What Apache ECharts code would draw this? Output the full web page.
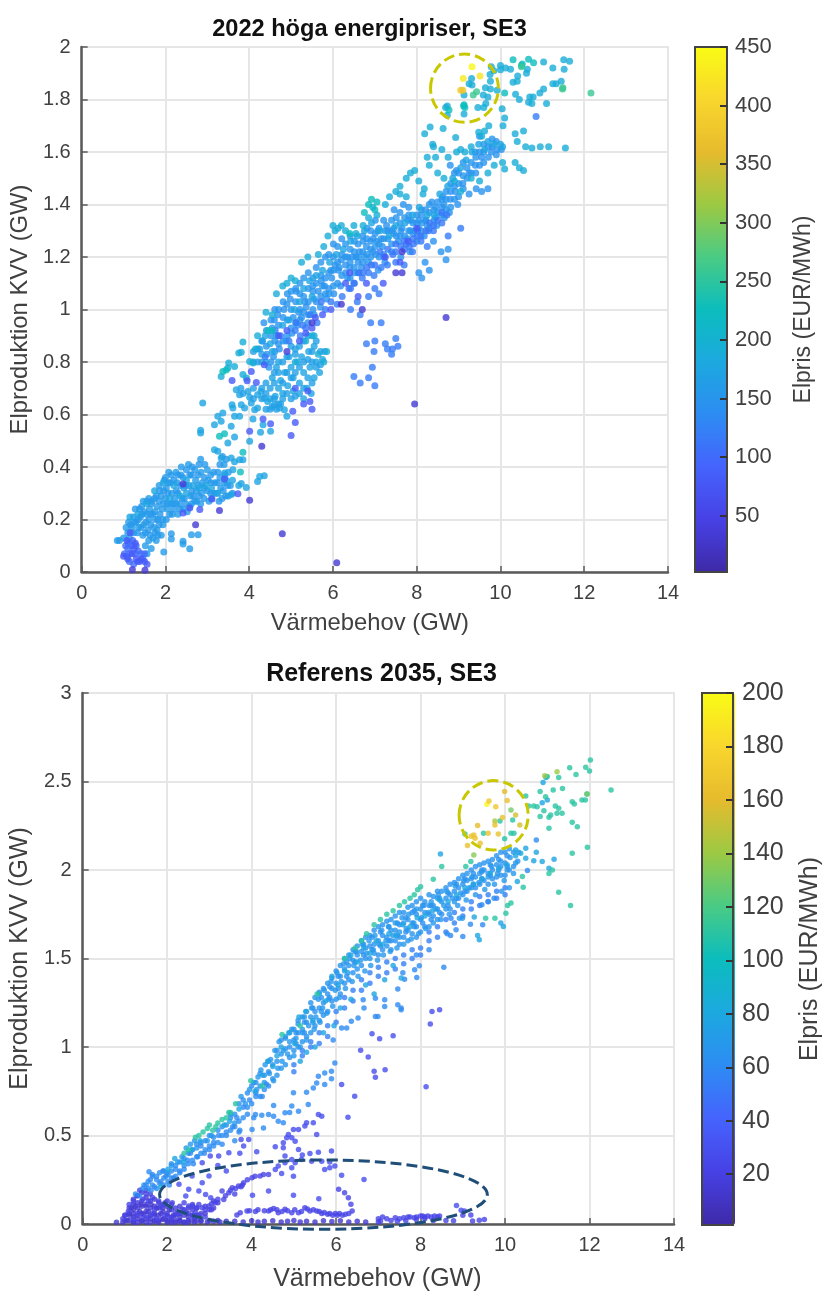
<!DOCTYPE html>
<html><head><meta charset="utf-8">
<style>html,body{margin:0;padding:0;background:#fff}#c{width:824px;height:1293px}</style>
<script src="https://cdn.jsdelivr.net/npm/echarts@6/dist/echarts.min.js"></script>
</head><body><div id="c"></div>
<script>
const titles=['2022 höga energipriser, SE3','Referens 2035, SE3'];
const xName='Värmebehov (GW)', yName='Elproduktion KVV (GW)', cName='Elpris (EUR/MWh)';
const cTicksA=[50,100,150,200,250,300,350,400,450];
const cTicksB=[20,40,60,80,100,120,140,160,180,200];
const parula=['#3E2AA8','#4741E5','#4563FD','#2D8CF3','#1CA9DF','#0BBDBD','#4ACB84','#9DC943','#E6BB2D','#F9D62D','#F9FB15'];

// ---------- 2022 : [x GW, y GW] grouped by price (EUR/MWh)
const a160=[[.85,.12],[.9,.12],[1.0,.13],[1.06,.17],[1.12,.19],[1.1,.15],[1.2,.17],[1.23,.21],[1.28,.24],[1.3,.19],[1.36,.17],[1.4,.21],[1.43,.25],[1.47,.27],[1.5,.23],[1.48,.18],[1.46,.14],[1.52,.1],[1.56,.07],[1.6,.12],[1.58,.16],[1.6,.2],[1.62,.24],[1.6,.28],[1.68,.27],[1.7,.22],[1.72,.17],[1.7,.13],[1.66,.09],[1.78,.12],[1.8,.16],[1.82,.2],[1.8,.25],[1.78,.29],[1.85,.33],[1.9,.29],[1.92,.24],[1.94,.18],[1.9,.14],[2.0,.36],[2.02,.32],[2.0,.28],[2.05,.24],[2.08,.38],[2.12,.34],[2.15,.3],[2.18,.26],[2.16,.22],[2.25,.38],[2.28,.34],[2.3,.3],[2.33,.26],[2.3,.22],[2.38,.4],[2.42,.36],[2.44,.32],[2.45,.28],[2.42,.24],[2.55,.41],[2.58,.37],[2.56,.33],[2.6,.29],[2.58,.25],[2.7,.39],[2.72,.35],[2.74,.31],[2.7,.27],[2.84,.43],[2.85,.38],[2.88,.34],[2.86,.3],[2.84,.26],[3.0,.39],[3.02,.35],[3.0,.31],[3.04,.27],[3.15,.38],[3.18,.34],[3.16,.3],[3.3,.36],[3.32,.32],[3.35,.28],[3.4,.41],[3.5,.38],[3.55,.33],[3.6,.3],[3.5,.29],[2.14,.146],[2.14,.126],[2.42,.117],[2.42,.107],[2.62,.142],[2.78,.142],[2.58,.089],[1.96,.076]];
const a155=[[1.14,.13],[1.17,.18],[1.24,.15],[1.26,.19],[1.33,.15],[1.35,.2],[1.38,.24],[1.42,.17],[1.44,.22],[1.52,.15],[1.53,.19],[1.55,.22],[1.56,.27],[1.63,.14],[1.65,.18],[1.65,.22],[1.66,.26],[1.75,.15],[1.76,.2],[1.75,.23],[1.74,.28],[1.82,.14],[1.85,.18],[1.87,.22],[1.85,.27],[1.86,.31],[1.93,.2],[1.95,.26],[1.96,.31],[1.97,.35],[2.02,.2],[2.04,.26],[2.06,.3],[2.07,.34],[2.1,.22],[2.12,.26],[2.14,.37],[2.2,.24],[2.22,.28],[2.2,.35],[2.26,.26],[2.26,.31],[2.3,.37],[2.35,.24],[2.36,.33],[2.37,.37],[2.4,.28],[2.48,.26],[2.48,.33],[2.5,.39],[2.52,.23],[2.62,.26],[2.63,.31],[2.62,.37],[2.64,.4],[2.66,.29],[2.75,.27],[2.78,.33],[2.78,.37],[2.8,.41],[2.8,.29],[2.92,.28],[2.93,.32],[2.93,.36],[2.94,.41],[3.08,.3],[3.08,.34],[3.08,.37],[3.1,.28],[3.22,.3],[3.24,.34],[3.25,.38],[3.28,.27],[3.38,.31],[3.4,.34],[3.42,.37],[3.44,.29],[3.48,.33],[3.3,.41],[3.36,.44],[3.45,.43],[7.05,1.26],[7.07,1.3],[7.25,1.3],[7.45,1.31],[7.65,1.31],[7.85,1.3],[7.87,1.34],[8.05,1.34],[8.25,1.32],[8.45,1.35],[8.65,1.4],[5.55,1.04],[5.75,1.09],[5.95,1.15],[6.15,1.16],[6.35,1.2],[6.55,1.2],[6.75,1.2],[6.95,1.22]];
const a100=[[1.05,.1],[1.02,.07],[1.1,.09],[1.08,.06],[1.15,.07],[1.2,.1],[1.28,.07],[1.35,.08],[1.42,.07],[1.5,.07],[1.14,.04],[1.24,.03],[1.38,.04],[1.46,.05],[1.12,.11],[1.22,.12],[1.3,.1]];
const a175=[[1.15,.21],[1.34,.22],[1.55,.26],[1.74,.31],[1.95,.34],[2.1,.28],[2.2,.33],[2.35,.29],[2.5,.35],[2.5,.3],[2.65,.33],[2.8,.32],[2.95,.33],[3.1,.32],[3.25,.3],[3.45,.35],[3.6,.35],[3.75,.33],[3.81,.337],[3.93,.322],[3.57,.295],[3.25,.46],[3.33,.434],[3.17,.466],[3.57,.434],[3.65,.42],[3.77,.428],[3.85,.428],[3.61,.39],[3.41,.377],[4.2,.345],[4.25,.364],[4.36,.367],[2.89,.644],[2.84,.54],[2.84,.53],[3.17,.561],[3.25,.593],[3.37,.606],[3.33,.574],[3.49,.491],[3.65,.514],[3.57,.555],[3.65,.593],[3.77,.593],[3.59,.637],[3.61,.625],[3.81,.637],[3.89,.625],[4.09,.583],[4.01,.498],[4.27,.532],[4.33,.561],[4.51,.536],[3.69,.694],[3.77,.675],[3.97,.688],[4.01,.666],[4.05,.644],[4.13,.618],[4.2,.625],[4.2,.675],[4.36,.663],[4.44,.65],[4.6,.637],[4.72,.625],[4.84,.618],[4.9,.593],[4.28,.688],[4.5,.66],[4.62,.67],[4.7,.7],[4.8,.68],[4.55,.74],[4.65,.78],[4.75,.73],[4.85,.76],[4.92,.71],[5.0,.78],[5.05,.74],[5.15,.8],[5.2,.72],[5.3,.76],[5.38,.7],[5.45,.78],[5.55,.74],[5.6,.8],[5.68,.76],[5.75,.81],[5.8,.84],[5.05,.69],[5.3,.66],[5.42,.84],[5.55,.86],[4.55,.84],[4.7,.8],[4.95,.82],[5.1,.85],[5.25,.82],[5.48,.68],[4.25,.85],[4.3,.8],[4.38,.9],[4.5,.87],[4.65,.9],[4.8,.94],[4.95,.96],[5.08,1.0],[5.2,1.03],[5.3,1.08],[5.44,1.11],[5.5,1.05],[5.6,1.13],[5.75,1.15],[5.92,1.18],[6.08,1.21],[6.25,1.23],[6.42,1.26],[6.58,1.28],[6.75,1.3],[6.92,1.33],[7.12,1.3],[7.34,1.28],[7.5,1.32],[7.72,1.33],[7.9,1.36],[8.06,1.39],[8.25,1.36],[8.42,1.36],[8.55,1.44],[8.74,1.47],[8.86,1.5],[9.05,1.54],[9.18,1.57],[9.32,1.6],[9.48,1.63],[9.62,1.61],[9.7,1.64],[9.85,1.63],[10.0,1.63],[10.05,1.62]];
const a145=[[4.42,.83],[4.55,.93],[4.58,.82],[4.68,.98],[4.72,.85],[4.83,1.0],[4.88,.88],[4.98,1.04],[5.02,.91],[5.12,1.07],[5.15,.94],[5.25,.97],[5.36,1.01],[5.4,.95],[5.55,.98],[5.65,1.07],[5.7,1.01],[5.8,1.09],[5.85,1.04],[5.97,1.12],[6.02,1.06],[6.13,1.15],[6.18,1.09],[6.3,1.17],[6.35,1.12],[6.46,1.2],[6.52,1.14],[6.63,1.22],[6.68,1.16],[6.8,1.24],[6.85,1.18],[6.96,1.27],[7.02,1.21],[7.08,1.15],[7.18,1.24],[7.24,1.18],[7.4,1.22],[7.46,1.38],[7.56,1.26],[7.62,1.2],[7.68,1.4],[7.78,1.27],[7.84,1.22],[7.95,1.3],[8.0,1.26],[8.12,1.33],[8.18,1.28],[8.3,1.31],[8.36,1.41],[8.48,1.32],[8.6,1.39],[8.66,1.35],[8.8,1.42],[8.92,1.45],[8.98,1.4],[9.1,1.48],[9.25,1.52],[9.4,1.55],[9.55,1.58],[9.78,1.6],[9.92,1.61],[4.35,.95],[4.47,.78],[4.6,.96],[4.9,1.02],[5.05,.97],[5.18,.99],[5.33,1.03],[5.52,1.09],[5.72,1.11],[5.9,1.08],[6.05,1.17],[6.2,1.19],[6.4,1.16],[6.6,1.18],[6.72,1.26],[6.9,1.23],[7.15,1.27],[7.28,1.32],[7.45,1.29],[7.62,1.3],[7.8,1.34],[8.04,1.31],[8.22,1.34],[8.45,1.39],[8.62,1.43],[8.78,1.37],[8.4,1.26],[8.58,1.22],[8.7,1.19],[8.75,1.23],[8.2,1.18],[8.05,1.14],[8.12,1.12],[8.3,1.15],[9.4,1.6],[9.5,1.66],[9.25,1.44],[9.42,1.46],[9.55,1.45],[9.7,1.46],[8.95,1.53],[8.8,1.55]];
// columns: x followed by the y values read at about that x
const aBand=[[4.32,.88],[4.41,.86,.92],[4.52,.8,.9,.96],[4.61,.84,.88,1.0],[4.7,.87,.94,1.0],[4.81,.88,.97,1.03],[4.91,.9,.96,1.06],[5.0,.93,1.0,1.07],[5.11,.95,1.03,1.08],[5.21,.96,1.0,1.06,1.1],[5.3,.99,1.05,1.12],[5.41,.98,1.03,1.08,1.14],[5.52,1.0,1.07,1.12],[5.6,1.03,1.1,1.16],[5.71,1.05,1.13,1.18],[5.82,1.06,1.12,1.2],[5.9,1.06,1.14,1.21],[6.01,1.09,1.15,1.2,1.25],[6.11,1.1,1.18,1.24],[6.21,1.13,1.21,1.27],[6.3,1.14,1.2,1.25],[6.41,1.12,1.18,1.23,1.28],[6.51,1.16,1.22,1.26],[6.6,1.14,1.2,1.25],[6.71,1.18,1.22,1.28],[6.81,1.21,1.27,1.31],[6.9,1.2,1.26,1.3],[7.01,1.24,1.29,1.34],[7.1,1.2,1.25,1.31],[7.21,1.21,1.27,1.34],[7.31,1.27,1.3],[7.4,1.25,1.3,1.34],[7.51,1.28,1.35],[7.6,1.28,1.33,1.37],[7.71,1.28,1.35],[7.81,1.3,1.36,1.39],[7.91,1.29,1.33],[8.0,1.33,1.36],[8.11,1.3,1.36,1.38],[8.21,1.34,1.38],[8.3,1.37,1.4],[8.41,1.34,1.38],[8.5,1.37,1.41],[8.6,1.36,1.42],[8.7,1.38,1.42,1.45],[8.81,1.39,1.45,1.48],[8.9,1.42,1.47,1.52],[9.0,1.43,1.48,1.52],[9.11,1.46,1.51,1.56],[9.2,1.5,1.54],[9.3,1.52,1.56],[9.41,1.52,1.58],[9.5,1.55,1.6],[9.6,1.56,1.6,1.63],[9.71,1.58,1.62],[9.8,1.62,1.65],[9.9,1.59,1.64],[10.02,1.61]];
const aBandLow=[[6.42,1.08],[6.51,1.1],[6.62,1.14],[6.72,1.14],[6.81,1.16],[6.92,1.17],[7.0,1.17],[7.12,1.22],[7.22,1.2],[7.31,1.23],[7.43,1.21],[7.5,1.22,1.25],[7.62,1.24],[7.7,1.23,1.26],[7.82,1.24],[7.92,1.25,1.27],[8.02,1.28,1.3],[8.1,1.26,1.28],[8.22,1.3],[8.31,1.33],[8.4,1.3,1.32],[8.5,1.34],[8.6,1.33,1.37],[8.72,1.36],[5.12,.95],[5.35,.93],[5.72,1.03]];
const aBlock=[[4.6,.66,.72,.76],[4.7,.64,.76],[4.8,.66,.72,.8],[4.9,.68,.76,.82],[5.0,.66,.74,.86],[5.1,.67,.76,.83],[5.2,.68,.78,.86],[5.3,.7,.8,.88],[5.4,.74,.81,.9],[5.5,.72,.8,.84],[5.6,.78,.88],[5.7,.79,.84],[4.3,.7,.66],[4.4,.68,.72,.62,.8],[4.5,.62,.7],[4.1,.66,.7,.8,.84],[3.85,.68],[4.55,.63],[4.65,.62],[4.75,.64],[4.2,.8,.85],[4.3,.83,.88],[3.8,.7]];
const a190=[[6.5,1.32],[6.3,1.3],[6.2,1.32],[5.88,1.28],[5.65,1.21],[5.78,1.24],[6.0,1.32],[6.05,1.3],[6.12,1.31],[6.55,1.29],[6.72,1.32],[6.85,1.35],[6.95,1.39],[7.05,1.36],[7.25,1.4],[7.35,1.43],[7.5,1.45],[7.6,1.47],[7.75,1.5],[7.85,1.52],[7.95,1.53],[8.05,1.49],[8.18,1.46],[8.3,1.55],[8.45,1.58],[8.25,1.58],[8.38,1.63],[8.32,1.695],[8.63,1.69],[8.19,1.67],[8.93,1.655],[8.4,1.62],[8.6,1.61],[8.75,1.58],[8.95,1.6],[9.15,1.6],[9.3,1.62],[9.05,1.61],[9.72,1.7],[10.06,1.7],[9.48,1.675],[9.55,1.66],[9.62,1.68],[10.35,1.67],[10.55,1.68],[10.4,1.64],[10.6,1.62],[10.75,1.615],[10.95,1.62],[11.15,1.62],[11.55,1.615],[10.05,1.56],[10.1,1.535],[10.35,1.56],[10.55,1.53],[9.85,1.55],[9.7,1.52],[10.45,1.54],[9.3,1.5],[9.5,1.49],[9.05,1.45],[8.5,1.52],[8.65,1.5],[8.9,1.49],[7.6,1.44],[7.75,1.43],[8.15,1.44],[9.78,1.925],[10.0,1.93],[9.84,1.91],[10.0,1.913],[10.12,1.92],[10.24,1.915],[10.64,1.915],[10.62,1.9],[10.41,1.89],[10.3,1.866],[10.4,1.87],[11.25,1.92],[11.52,1.915],[11.03,1.943],[11.51,1.951],[11.65,1.946],[9.31,1.88],[9.25,1.86],[9.32,1.855],[9.76,1.84],[9.64,1.845],[9.76,1.87],[9.75,1.895],[9.92,1.835],[9.59,1.817],[9.7,1.81],[9.13,1.817],[9.46,1.77],[9.6,1.77],[9.65,1.785],[10.04,1.765],[10.1,1.73],[10.45,1.8],[10.7,1.81],[10.78,1.81],[10.67,1.79],[10.75,1.785],[11.1,1.785],[10.94,1.825],[11.03,1.84],[11.25,1.86],[11.33,1.86],[11.45,1.87],[10.36,1.82],[8.73,1.775],[8.69,1.77],[8.73,1.74],[9.13,1.745],[5.4,1.2],[5.25,1.18],[5.1,1.11],[5.0,1.12],[4.9,1.1],[4.8,1.09],[4.65,1.06],[4.55,.98],[4.4,.99],[4.2,.9],[4.15,.85],[3.85,.876],[3.75,.834],[3.81,.837],[4.01,.802],[4.09,.796],[3.51,.796],[3.49,.777],[3.65,.783],[3.33,.745],[3.93,.739],[3.85,.752],[5.1,.8],[5.35,.88],[5.5,.9],[5.65,.83],[5.85,.84],[5.78,.8],[5.55,.9]];
const a225=[[3.37,.764],[3.45,.77],[6.75,1.37],[6.85,1.4],[6.92,1.42],[7.0,1.38],[7.05,1.41],[3.85,.456],[3.41,.527],[3.29,.517],[3.79,.381],[10.3,1.951],[10.67,1.953],[10.79,1.94],[10.5,1.93],[10.52,1.935],[9.12,1.775],[9.15,1.77],[9.13,1.78],[10.1,1.825],[8.77,1.76],[4.55,.92],[4.45,.92],[6.4,1.29]];
const a260=[[9.35,1.817],[9.43,1.83],[11.49,1.845],[12.16,1.825],[11.48,1.84],[10.5,1.925]];
const a120=[[4.38,.82],[4.62,.92],[4.75,.9],[4.95,.88],[5.1,.92],[5.22,.9],[5.28,.94],[5.45,.98],[5.62,.95],[5.82,1.0],[5.95,1.03],[6.1,1.02],[6.22,1.05],[6.38,1.08],[6.5,1.1],[6.7,1.12],[6.85,1.14],[6.98,1.13],[7.15,1.16],[7.3,1.17],[7.5,1.18],[7.7,1.17],[7.75,1.25],[7.9,1.22],[8.25,1.24],[8.28,1.3],[10.85,1.735],[9.05,1.31],[8.75,1.28],[7.1,1.06],[7.0,1.08],[6.85,1.05],[6.58,1.03],[6.42,1.0],[6.65,.98],[6.9,.95],[7.15,.95],[7.0,.88],[6.8,.87],[7.25,.87],[7.3,.85],[7.4,.83],[7.55,.86],[6.94,.78],[6.85,.74],[6.98,.84],[7.42,.85],[7.5,.89],[6.5,.745],[6.65,.72],[7.0,.71]];
const a80=[[1.08,.12],[1.16,.15],[1.28,.11],[1.0,.06],[1.1,.05],[1.2,.07],[1.3,.05],[1.42,.05],[1.5,.04],[1.56,.03],[1.25,.09],[1.34,.04],[2.42,.225],[2.58,.244],[2.82,.238],[3.11,.278],[3.41,.354],[3.73,.298],[4.05,.764],[3.59,.73],[3.95,.729],[4.36,.79],[4.17,.722],[5.04,.612],[5.4,.69],[5.5,.62],[5.45,.65],[5.3,.64],[5.1,.7],[4.7,.9],[4.9,.92],[5.2,.88],[5.35,.91],[5.5,.93],[5.58,.97],[5.75,.98],[5.95,1.0],[6.3,1.1],[6.6,1.05],[6.8,1.1],[7.25,1.2],[7.6,1.18],[7.8,1.26],[8.0,1.31],[7.2,1.1],[6.4,1.14],[4.01,.536],[4.33,.583],[4.51,.565],[5.1,.57],[5.0,.52]];
const a35=[[4.30,.479],[2.72,.18],[3.29,.234],[4.01,.273],[7.95,.64],[8.7,.97],[2.42,.335],[4.79,.146],[6.09,.035],[1.21,.009],[1.51,.007],[4.9,.84],[5.5,.95],[6.2,1.02],[6.7,1.0],[7.65,1.22],[7.5,1.14],[7.65,1.14]];
const cols=c=>c.flatMap(([x,...ys])=>ys.map(y=>[x,y]));
const a2022=[[160,a160],[155,a155],[145,a145],[150,cols(aBand)],[175,a175],[165,cols(aBlock)],[190,a190],[120,a120],[115,cols(aBandLow)],[100,a100],[225,a225],[80,a80],[260,a260],[35,a35]];
const aHigh=[[9.32,1.925,445],[9.11,1.88,430],[9.51,1.89,420],[9.05,1.835,385],[9.1,1.835,375]];

// ---------- Referens 2035 : [x GW, y GW] grouped by price (EUR/MWh)
const bBlob=[[1.0,.02,.05],[1.1,.02,.06,.09],[1.2,.01,.04,.08,.11,.14],[1.3,.01,.05,.09,.12,.16],[1.4,.02,.06,.1,.13,.18],[1.5,.03,.07,.11,.15,.19],[1.6,.01,.05,.09,.13,.17],[1.7,.02,.06,.1,.14],[1.8,.02,.05,.09,.12],[1.9,.03,.07,.11],[2.0,.02,.06,.1,.13],[2.1,.01,.04,.08,.11],[2.2,.02,.05,.09],[2.3,.02,.06,.1],[2.4,.01,.05,.08],[2.5,.02,.06,.09],[2.6,.02,.05,.08,.11],[2.7,.02,.05,.09],[2.8,.02,.06],[2.9,.06,.1],[3.0,.02,.08],[3.1,.09,.13],[3.2,.02,.12]];
const b14=[[.8,.01],[.95,.01],[1.05,.02],[1.2,.01],[1.3,.03],[1.4,.015],[1.5,.01],[1.6,.03],[1.7,.015],[1.8,.01],[1.9,.025],[2.0,.01],[2.1,.02],[2.2,.01],[2.3,.015],[2.4,.01],[2.5,.01],[2.65,.012],[2.8,.015],[2.95,.012],[3.1,.015],[3.25,.012],[3.4,.015],[3.6,.015],[3.8,.012],[4.0,.018],[4.15,.012],[4.3,.015],[4.5,.018],[4.7,.012],[4.85,.015],[5.0,.02],[5.15,.012],[5.3,.016],[5.5,.012],[5.7,.018],[5.9,.014],[6.1,.018],[6.3,.012],[6.5,.015],[6.7,.012],[1.1,.05],[1.2,.06],[1.35,.07],[1.45,.055],[1.55,.07],[1.7,.05],[1.85,.06],[2.0,.045],[2.15,.05],[2.3,.04],[2.5,.04],[2.65,.035],[1.15,.09],[1.25,.1],[1.38,.11],[1.5,.1],[1.62,.11],[1.75,.09],[1.9,.09],[2.05,.08]];
const b22=[[.95,.03],[1.0,.05],[1.08,.07],[1.2,.03],[1.3,.06],[1.42,.04],[1.55,.04],[1.65,.06],[1.75,.03],[1.95,.05],[2.1,.035],[2.25,.06],[2.45,.065],[2.6,.05],[2.75,.05],[2.9,.04],[1.1,.11],[1.2,.13],[1.28,.16],[1.42,.14],[1.55,.13],[1.35,.19],[1.5,.17],[1.65,.15],[1.8,.13],[1.95,.12],[1.7,.08],[1.85,.1],[2.12,.12],[2.2,.064],[2.36,.083],[2.51,.102],[2.67,.064],[2.83,.092],[2.99,.102],[3.14,.12],[3.34,.139],[3.46,.177],[3.3,.186],[3.54,.205],[3.69,.214],[3.81,.233],[4.01,.261],[4.2,.271],[4.4,.28],[3.6,.17],[3.75,.21],[2.4,.12],[2.6,.1],[2.75,.11],[2.9,.08],[3.05,.08],[3.65,.051],[3.73,.064],[3.89,.073],[4.09,.07],[4.4,.073],[4.52,.087],[4.63,.064],[4.79,.083],[4.95,.064],[5.11,.064],[5.26,.092],[5.38,.073],[5.54,.073],[5.66,.06],[5.8,.055],[5.92,.05],[6.03,.05],[6.15,.05],[6.3,.06],[6.38,.073],[6.35,.111],[6.29,.148],[6.2,.177],[6.06,.196],[7.0,.03],[7.2,.03],[7.4,.035],[7.6,.035],[7.75,.04],[7.9,.04],[8.05,.045],[8.17,.045],[8.33,.045],[8.45,.045],[8.78,.019],[9.0,.049],[9.19,.051],[9.23,.017],[9.39,.021],[9.51,.025],[7.05,.015],[7.3,.02],[7.65,.018],[7.9,.025],[8.1,.03],[3.95,.075],[4.15,.08],[4.3,.075],[4.45,.08],[4.6,.08],[4.72,.07],[4.85,.075],[5.02,.08],[5.18,.07],[5.32,.085],[5.46,.08],[5.6,.07],[5.72,.065],[5.85,.06],[5.98,.06],[6.08,.06],[6.22,.055],[7.1,.04],[7.5,.03],[7.7,.04],[7.85,.035],[8.0,.045],[8.1,.04],[8.25,.04],[8.4,.04],[3.38,.16],[3.5,.19],[3.62,.2],[3.78,.22],[3.9,.25],[4.08,.27],[4.28,.28],[3.2,.14],[3.05,.115],[2.7,.09],[7.0,.012],[7.45,.015],[8.3,.02],[8.6,.02]];
const b28=[[2.99,.271],[2.83,.233],[2.59,.271],[2.75,.186],[2.91,.167],[3.03,.149],[2.51,.196],[2.28,.224],[2.44,.158],[3.22,.384],[3.46,.403],[2.83,.346],[3.02,.384],[3.2,.33],[3.4,.3],[4.4,.186],[4.02,.162],[4.99,.162],[5.59,.143],[4.99,.27],[4.71,.286],[4.79,.384],[4.95,.365],[5.03,.346],[4.79,.346],[4.63,.327],[4.56,.308],[4.95,.318],[5.18,.365],[5.42,.355],[5.66,.355],[5.85,.35],[5.73,.308],[5.85,.318],[5.97,.327],[5.89,.412],[5.58,.406],[5.38,.399],[5.2,.39],[5.11,.421],[4.12,.408],[3.81,.44],[3.93,.478],[3.75,.478],[3.72,.4],[4.56,.436],[4.75,.431],[4.75,.459],[5.03,.468],[4.83,.487],[4.95,.487],[4.87,.506],[5.54,.506],[4.99,.534],[5.11,.534],[5.26,.553],[5.3,.572],[5.46,.572],[5.58,.618],[5.66,.609],[6.28,.603],[6.44,.722],[6.13,.788],[6.66,.252],[6.13,.276],[8.13,.775],[8.85,.105],[8.96,.077],[9.04,.074],[6.9,.863],[6.93,.829],[7.16,.872],[6.76,.944],[6.58,.981],[7.35,1.064],[7.03,1.047],[6.85,1.075],[8.27,1.201],[8.45,1.211],[8.23,1.13]];
const b60=[[1.25,.17],[1.35,.16],[1.42,.2],[1.5,.22],[1.62,.19],[1.7,.21],[1.6,.25],[1.57,.295],[1.65,.27],[1.75,.25],[1.85,.24],[1.9,.3],[1.97,.27],[2.05,.22],[2.15,.26],[2.2,.31],[2.3,.29],[2.4,.31],[2.48,.36],[2.55,.4],[2.62,.34],[2.72,.38],[2.8,.44],[2.88,.4],[3.0,.42],[3.1,.46],[3.22,.5],[3.3,.45],[3.4,.52],[3.55,.55],[3.65,.6],[3.72,.53],[3.8,.66],[3.9,.62],[4.01,.534],[4.28,.543],[4.09,.618],[4.24,.615],[4.4,.618],[4.52,.609],[4.63,.581],[4.75,.572],[4.79,.628],[4.9,.63],[4.95,.666],[4.99,.741],[5.11,.637],[5.34,.675],[5.3,.745],[5.46,.769],[5.54,.797],[5.58,.835],[5.73,.853],[5.73,.788],[5.89,.82],[5.89,.863],[5.97,.91],[5.93,1.04],[6.13,1.107],[6.25,1.107],[6.36,1.145],[6.52,1.164],[6.64,1.267],[6.66,1.22],[6.93,1.173],[6.99,1.173],[6.93,1.276],[7.15,1.267],[7.15,1.229],[7.46,1.239],[7.46,1.327],[7.54,1.22],[7.54,1.211],[4.52,.669],[3.95,.7],[4.1,.74],[4.25,.72],[4.35,.79],[4.05,.6],[3.6,.47],[3.7,.52],[8.55,1.451],[7.86,1.436],[7.91,1.393],[7.62,1.383],[7.97,1.459],[7.58,1.42],[8.2,1.55],[7.9,1.52],[8.71,1.63],[8.63,1.64],[9.0,1.625],[8.84,1.662],[8.72,1.728],[9.47,1.69],[9.18,1.694],[9.74,1.841],[9.6,1.822],[9.45,1.803],[10.74,2.17],[10.53,1.997]];
const bBandLow=[[1.45,.22],[1.55,.24,.2],[1.65,.22,.28],[1.75,.2,.27],[1.82,.23,.29],[1.92,.22,.26,.3],[2.02,.24,.28],[2.1,.26,.3,.34],[2.2,.27,.33],[2.3,.3,.35],[2.4,.33,.37],[2.5,.34,.4],[2.6,.36,.42],[2.7,.38,.45],[2.8,.4,.46],[2.9,.42,.47],[3.0,.44,.5],[3.1,.44,.49],[3.2,.46,.53],[3.3,.5,.55],[3.4,.5,.56],[3.5,.53,.6],[3.6,.55,.62],[3.7,.58,.68],[3.8,.6,.7],[3.9,.66,.74],[4.0,.68,.78],[4.1,.72,.8],[4.2,.72,.78,.85],[4.3,.76,.84],[4.4,.78,.86,.92]];
const bBand=[[4.5,.82,.9],[4.6,.84,.92,.98],[4.7,.88,.96,1.04],[4.8,.9,.99,1.05],[4.9,.94,1.0,1.08],[5.0,.98,1.04,1.1],[5.1,1.0,1.08,1.15],[5.2,1.03,1.1,1.17],[5.3,1.06,1.14,1.2],[5.4,1.08,1.17,1.25],[5.5,1.12,1.2,1.28],[5.6,1.15,1.22,1.31],[5.7,1.18,1.25,1.33],[5.8,1.2,1.3,1.36],[5.9,1.26,1.33,1.39],[6.0,1.27,1.36,1.43],[6.1,1.3,1.4,1.46],[6.2,1.36,1.44,1.5],[6.3,1.38,1.46,1.52],[6.4,1.42,1.49,1.55],[6.5,1.44,1.52,1.57],[6.6,1.46,1.54,1.6],[6.7,1.5,1.56,1.62],[6.8,1.5,1.57,1.63],[6.9,1.53,1.58,1.66],[7.0,1.52,1.6,1.68],[7.1,1.55,1.63,1.69],[7.2,1.57,1.62,1.71],[7.3,1.55,1.6,1.66,1.72],[7.4,1.6,1.66,1.74],[7.5,1.58,1.62,1.69,1.76],[7.6,1.62,1.7,1.76],[7.7,1.6,1.66,1.72,1.79],[7.8,1.64,1.7,1.76,1.8],[7.9,1.62,1.68,1.75,1.82],[8.0,1.65,1.72,1.78,1.84],[8.1,1.68,1.76,1.82],[8.2,1.68,1.75,1.8,1.86],[8.3,1.74,1.8,1.85],[8.4,1.72,1.78,1.84,1.88],[8.5,1.75,1.82,1.88],[8.6,1.78,1.84,1.9],[8.7,1.78,1.86,1.92],[8.8,1.82,1.88,1.93],[8.9,1.84,1.9,1.95],[9.0,1.86,1.92,1.97],[9.1,1.88,1.94,1.98],[9.2,1.9,1.95,2.0],[9.3,1.9,1.96,2.02],[9.4,1.92,1.98,2.03],[9.5,1.94,2.0,2.04],[9.6,1.92,1.98,2.05],[9.7,1.95,2.0,2.06],[9.8,1.96,2.03,2.08],[9.9,1.97,2.02,2.1],[10.0,1.97,2.04,2.1],[10.1,2.0,2.12],[10.2,2.02,2.1],[10.3,2.05]];
const bUnder=[[5.0,.9,.86],[5.2,.95,.98],[5.4,1.0,1.03],[5.6,1.08,1.02],[5.8,1.12,1.06],[6.0,1.2,1.14],[6.2,1.28,1.22],[6.4,1.32,1.26],[6.6,1.38,1.32],[6.8,1.42,1.36],[7.0,1.45,1.4],[7.2,1.48,1.42],[7.4,1.5,1.44],[7.6,1.52,1.47],[7.8,1.55,1.5],[8.0,1.56,1.52],[8.2,1.6,1.65],[8.4,1.62,1.68],[8.6,1.65,1.72],[8.8,1.7,1.76],[9.0,1.78,1.74],[9.2,1.82,1.78],[9.4,1.85,1.8],[9.6,1.86,1.82],[9.8,1.88,1.84],[10.0,1.9,1.86]];
const bMid=[[5.05,1.02,1.08],[5.25,1.08,1.14],[5.45,1.14,1.22],[5.65,1.2,1.28],[5.85,1.28,1.34],[6.05,1.33,1.4],[6.25,1.4,1.48],[6.45,1.48,1.54],[6.65,1.52,1.58],[6.85,1.55,1.62],[7.05,1.57,1.65],[7.25,1.6,1.68],[7.45,1.63,1.7],[7.65,1.65,1.73],[7.85,1.68,1.77],[8.05,1.7,1.8],[8.25,1.72,1.8],[8.45,1.76,1.84],[8.65,1.8,1.87],[8.85,1.84,1.92],[9.05,1.88,1.95],[9.25,1.92,1.98],[9.45,1.95,2.0],[9.65,1.97,2.03],[9.85,2.0,2.06],[10.05,2.02,2.08]];
const b68=[[2.0,.29],[2.1,.33],[2.25,.35],[2.35,.38],[2.45,.43],[2.55,.45],[2.65,.47],[2.7,.43],[2.95,.47],[3.05,.5],[3.5,.62],[3.6,.57],[3.75,.72],[3.85,.68],[3.95,.76],[4.05,.8],[4.15,.83],[4.12,.76],[4.22,.87],[4.3,.8],[4.32,.9],[4.42,.85],[4.45,.93],[4.52,.81],[4.55,.98],[4.62,.88],[4.65,1.03],[4.72,.92],[4.75,.98],[4.8,1.06],[4.85,.96],[4.9,1.03],[4.95,1.1],[5.0,.95],[5.05,1.05],[5.1,1.13],[5.15,1.0],[5.2,1.08],[5.25,1.17],[5.3,1.04],[5.35,1.12],[5.42,1.22],[5.48,1.1],[5.52,1.17],[5.58,1.27],[5.62,1.14],[5.68,1.22],[5.72,1.32],[5.78,1.19],[5.82,1.27],[5.88,1.37],[5.92,1.23],[5.98,1.32],[6.02,1.42],[6.08,1.28],[6.12,1.37],[6.18,1.47],[6.22,1.33],[6.28,1.42],[6.32,1.5],[6.38,1.37],[6.42,1.46],[6.48,1.54],[6.52,1.4],[6.58,1.49],[6.62,1.58],[6.68,1.43],[6.72,1.53],[6.78,1.6],[6.82,1.46],[6.88,1.55],[6.92,1.63],[6.98,1.49],[7.02,1.58],[7.08,1.66],[7.12,1.52],[7.18,1.6],[7.24,1.68],[7.28,1.54],[7.34,1.63],[7.4,1.7],[7.44,1.56],[7.5,1.65],[7.56,1.73],[7.6,1.58],[7.66,1.67],[7.72,1.75],[7.78,1.61],[7.84,1.7],[7.9,1.78],[7.95,1.64],[8.02,1.73],[8.08,1.8],[8.12,1.67],[8.18,1.76],[8.25,1.82],[8.3,1.7],[8.36,1.78],[8.42,1.86],[8.48,1.72],[8.55,1.8],[8.62,1.88],[8.68,1.75],[8.75,1.84],[8.82,1.91],[8.88,1.8],[8.95,1.87],[9.02,1.94],[9.08,1.83],[9.15,1.9],[9.22,1.96],[9.3,1.86],[9.38,1.93],[9.45,1.99],[9.52,1.89],[9.6,1.96],[9.68,2.02],[9.75,1.92],[9.82,1.98],[9.9,2.05],[9.98,1.94],[10.05,2.0],[10.12,2.07],[10.2,1.98],[10.25,2.04],[10.32,2.1],[10.1,1.9],[9.92,1.88],[8.92,1.728],[8.99,1.728]];
const b78=[[1.85,.21],[2.02,.31],[2.18,.37],[2.38,.35],[2.58,.42],[2.78,.47],[3.35,.56],[3.48,.58],[3.7,.65],[4.08,.75],[4.26,.84],[4.38,.92],[4.5,.89],[4.6,.95],[4.7,1.0],[4.88,1.08],[5.02,1.02],[5.12,1.17],[5.28,1.2],[5.45,1.15],[5.6,1.3],[5.75,1.26],[5.9,1.4],[6.05,1.35],[6.2,1.43],[6.35,1.52],[6.5,1.48],[6.65,1.56],[6.8,1.53],[6.95,1.6],[7.1,1.58],[7.25,1.64],[7.42,1.63],[7.58,1.69],[7.75,1.68],[7.92,1.73],[8.1,1.74],[8.28,1.77],[8.45,1.83],[8.65,1.82],[8.85,1.86],[9.05,1.9],[9.25,1.92],[9.45,1.95],[9.65,1.98],[9.85,2.01],[10.05,2.03],[10.25,2.08],[10.37,2.095],[10.25,2.113],[10.49,2.067],[10.68,2.052],[10.88,2.048],[11.16,2.061],[11.04,2.01],[10.29,1.935],[10.49,2.123],[9.27,1.734],[9.96,1.681],[9.35,1.63],[9.39,1.606],[7.54,1.39],[7.35,1.46],[7.15,1.38],[6.9,1.3],[6.7,1.35],[6.35,1.27],[6.1,1.22],[5.95,1.12],[5.7,1.08],[5.5,1.0],[5.3,.97],[5.15,.92],[8.47,2.091],[9.9,1.7],[10.74,2.1],[10.88,2.38],[11.0,2.395],[10.97,2.523],[10.9,2.495]];
const b110=[[2.4,.4],[2.5,.42],[2.67,.49],[2.75,.5],[2.85,.52],[2.95,.54],[3.0,.56],[3.08,.53],[3.15,.55],[3.2,.57],[3.3,.59],[3.4,.6],[3.5,.63],[3.62,.68],[3.46,.63],[3.98,.81],[4.25,.78],[4.72,1.07],[5.15,1.12],[5.55,1.3],[6.2,1.5],[6.45,1.56],[6.6,1.6],[6.72,1.64],[6.9,1.69],[7.05,1.72],[7.2,1.75],[7.35,1.77],[7.5,1.8],[7.62,1.82],[7.75,1.84],[7.85,1.86],[7.93,1.888],[8.0,1.906],[8.3,1.948],[8.5,2.02],[9.07,2.02],[9.19,2.048],[9.05,2.204],[9.49,2.208],[10.14,2.208],[10.21,2.208],[9.99,2.176],[10.18,2.283],[9.88,2.277],[10.49,2.418],[10.56,2.362],[10.68,2.362],[10.76,2.358],[10.83,2.443],[10.96,2.414],[11.14,2.452],[11.36,2.461],[11.19,2.362],[11.27,2.349],[11.35,2.32],[11.23,2.32],[11.08,2.311],[11.04,2.298],[10.83,2.302],[10.92,2.335],[11.59,2.386],[11.64,2.373],[11.82,2.395],[11.9,2.395],[11.59,2.27],[11.71,2.245],[11.04,2.236],[11.95,2.129],[11.59,2.095],[11.27,1.875],[11.55,1.8],[10.41,1.963],[10.43,1.903],[11.12,2.0],[11.04,1.98],[10.14,1.813],[10.06,1.8],[10.02,1.756],[9.76,1.728],[9.54,1.728],[11.91,2.58],[12.0,2.56],[12.02,2.621],[11.53,2.578],[11.68,2.54],[11.27,2.523],[11.0,2.528],[12.51,2.452],[11.94,2.429]];
const bHigh=[[9.57,2.371,198],[9.62,2.39,170],[9.78,2.358,170],[9.99,2.443,160],[10.05,2.392,165],[10.25,2.311,155],[10.14,2.339,130],[9.94,2.296,165],[9.76,2.277,145],[9.76,2.254,165],[9.35,2.251,160],[10.35,2.254,155],[9.26,2.198,165],[9.2,2.19,165],[9.29,2.18,165],[9.6,2.208,165],[9.84,2.204,165],[9.41,2.151,165],[9.11,2.138,165],[9.26,2.085,135],[11.23,2.555,140],[10.94,2.533,140],[11.94,2.429,130]];
const b2035=[[16,cols(bBlob)],[14,b14],[22,b22],[28,b28],[55,cols(bUnder)],[62,cols(bBandLow)],[66,cols(bBand)],[64,cols(bMid)],[68,b68],[60,b60],[78,b78],[110,b110]];

const expand=g=>g.flatMap(([p,pts])=>pts.map(q=>[q[0],q[1],p]));
const dataA=expand(a2022).concat(aHigh), dataB=expand(b2035).concat(bHigh);
const ringsA=[[9.14,1.843,.81,.13]], ringsB=[[9.73,2.309,.818,.196]], ellipseB=[[5.70,.166,3.88,.196]];

const tc='#404040', F='"Liberation Sans",Arial,sans-serif';
const mainAxis=(name,size,extra,pad)=>Object.assign({name,nameLocation:'middle',nameTextStyle:{fontFamily:F,fontSize:size,color:tc,padding:pad||0},
 axisLine:{show:true,onZero:false,lineStyle:{color:'#5a5a5a',width:2.5}},axisTick:{show:true,inside:true,length:6,lineStyle:{color:'#5a5a5a',width:1.5}},
 axisLabel:{fontFamily:F,fontSize:20,color:tc,margin:11},splitLine:{show:true,lineStyle:{color:'#e6e6e6',width:2}}},extra);
const ell=(color,gridIdx,data)=>({type:'custom',xAxisIndex:gridIdx,yAxisIndex:gridIdx,silent:true,z:5,clip:false,data,
 encode:{x:0,y:1},renderItem:(p,api)=>{const c=api.coord([api.value(0),api.value(1)]),e=api.coord([api.value(0)+api.value(2),api.value(1)+api.value(3)]);
  return {type:'ellipse',shape:{cx:c[0],cy:c[1],rx:Math.abs(e[0]-c[0]),ry:Math.abs(e[1]-c[1])},style:{fill:'none',stroke:color,lineWidth:3,lineDash:[11,5]}};}});
const cAxis=(min,max,ticks,size,nameSize,gap,margin)=>({type:'value',position:'right',min,max,z:6,name:cName,nameLocation:'middle',nameRotate:90,nameGap:gap,
 nameTextStyle:{fontFamily:F,fontSize:nameSize,color:tc},axisLine:{show:true,onZero:false,lineStyle:{color:'#444',width:2}},splitLine:{show:false},
 axisTick:{show:true,inside:true,length:7,customValues:ticks,lineStyle:{color:'#333',width:2}},
 axisLabel:{fontFamily:F,fontSize:size,color:tc,margin,customValues:ticks}});
const cxAxis=g=>({type:'value',gridIndex:g,show:true,min:0,max:1,axisLine:{show:false,onZero:false},axisTick:{show:false},axisLabel:{show:false},splitLine:{show:false}});
const vm=(idx,min,max,left,top,w,h)=>({type:'continuous',seriesIndex:idx,dimension:2,min,max,left,top,itemWidth:w,itemHeight:h,padding:0,text:null,calculable:false,
 hoverLink:false,inRange:{color:parula},z:3});

const chart=echarts.init(document.getElementById('c'),null,{renderer:'canvas'});
chart.setOption({
 animation:false,backgroundColor:'#fff',
 title:[{text:titles[0],left:364.5,top:12,textAlign:'center',textStyle:{fontFamily:F,fontSize:23.6,fontWeight:'bold',color:'#111'}},
        {text:titles[1],left:376.5,top:657,textAlign:'center',textStyle:{fontFamily:F,fontSize:25,fontWeight:'bold',color:'#111'}}],
 grid:[{left:80,top:47,width:588,height:525,borderColor:'#e6e6e6',show:true,borderWidth:2},
       {left:80,top:693,width:594,height:532,borderColor:'#e6e6e6',show:true,borderWidth:2},
       {left:695,top:47,width:32,height:525,show:true,borderColor:'#444',borderWidth:2,z:6},
       {left:702,top:693,width:33,height:532,show:true,borderColor:'#444',borderWidth:2,z:6}],
 xAxis:[mainAxis(xName,23.8,{type:'value',gridIndex:0,min:0,max:14,interval:2,nameGap:39},[0,10,0,0]),
        mainAxis(xName,25,{type:'value',gridIndex:1,min:0,max:14,interval:2,nameGap:43},[0,2,0,0]),
        cxAxis(2),cxAxis(3)],
 yAxis:[mainAxis(yName,23.8,{type:'value',gridIndex:0,min:0,max:2,interval:.2,nameGap:45}),
        mainAxis(yName,25,{type:'value',gridIndex:1,min:0,max:3,interval:.5,nameGap:45}),
        Object.assign(cAxis(2,450,cTicksA,22,23,65,8),{gridIndex:2}),
        Object.assign(cAxis(1,200,cTicksB,25,25,65,9),{gridIndex:3})],
 visualMap:[vm(0,2,450,695,47,32,525),vm(1,1,200,702,693,33,532)],
 series:[{type:'scatter',xAxisIndex:0,yAxisIndex:0,symbolSize:7,data:dataA,silent:true,large:false,z:3},
         {type:'scatter',xAxisIndex:1,yAxisIndex:1,symbolSize:5.5,data:dataB,silent:true,large:false,z:3},
         ell('#C9C800',0,ringsA),ell('#C9C800',1,ringsB),ell('#1F4E79',1,ellipseB)]
});
</script></body></html>
